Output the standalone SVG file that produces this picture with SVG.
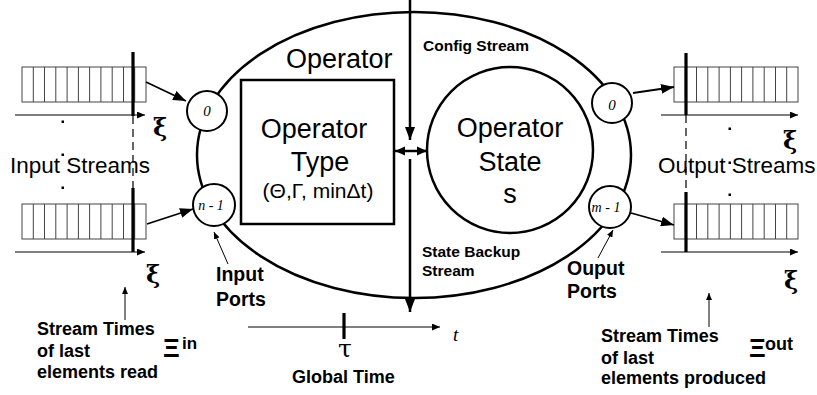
<svg xmlns="http://www.w3.org/2000/svg" xmlns:xlink="http://www.w3.org/1999/xlink" width="817" height="395" viewBox="0 0 817 395">
  <style>
    .sans { font-family: "Liberation Sans", Arial, sans-serif; fill: #000; }
    .bold { font-family: "Liberation Sans", Arial, sans-serif; font-weight: bold; fill: #000; }
    .serif { font-family: "DejaVu Serif", "Liberation Serif", serif; fill: #000; }
    .greek { font-family: "DejaVu Serif", "Liberation Serif", serif; fill: #000; font-size: 24px; font-weight: bold; }
    .ital { font-family: "Liberation Serif", "Times New Roman", serif; font-style: italic; fill: #000; }
    .big { font-size: 27px; }
    .mid { font-size: 22.5px; }
    .thick { stroke: #000; stroke-width: 2.5; fill: none; }
    .port { stroke: #000; stroke-width: 2; fill: #fff; }
    .cell { stroke: #444; stroke-width: 1; fill: #fff; }
    .axis { stroke: #000; stroke-width: 1.2; fill: none; }
    .bar { stroke: #000; stroke-width: 3.2; }
    .dash { stroke: #000; stroke-width: 1.2; stroke-dasharray: 8 5; }
    .flow { stroke: #000; stroke-width: 1.8; fill: none; }
    .note { stroke: #000; stroke-width: 1; fill: none; }
    .dot { fill: #000; }
  </style>
  <defs>
    <marker id="headL" markerUnits="userSpaceOnUse" markerWidth="13" markerHeight="10" refX="13" refY="5" orient="auto-start-reverse">
      <path d="M0,0 L13,5 L0,10 z" fill="#000"/>
    </marker>
    <marker id="headM" markerUnits="userSpaceOnUse" markerWidth="10" markerHeight="10" refX="10" refY="5" orient="auto-start-reverse">
      <path d="M0,0.5 L10,5 L0,9.5 z" fill="#000"/>
    </marker>
    <marker id="headS" markerUnits="userSpaceOnUse" markerWidth="8" markerHeight="7" refX="8" refY="3.5" orient="auto">
      <path d="M0,0 L8,3.5 L0,7 z" fill="#000"/>
    </marker>
    <marker id="headT" markerUnits="userSpaceOnUse" markerWidth="7" markerHeight="6" refX="7" refY="3" orient="auto">
      <path d="M0,0 L7,3 L0,6 z" fill="#000"/>
    </marker>
    <!-- stream buffer: 11 slots -->
    <g id="queue">
      <rect class="cell" x="0" y="0" width="124" height="35"/>
      <path class="cell" d="M11.3,0V35M22.5,0V35M33.8,0V35M45.1,0V35M56.4,0V35M67.6,0V35M78.9,0V35M90.2,0V35M101.5,0V35M112.7,0V35"/>
    </g>
  </defs>

  <!-- operator body -->
  <g id="operator">
    <ellipse class="thick" cx="414" cy="155" rx="217" ry="143"/>
    <text class="sans big" x="286" y="68">Operator</text>
  </g>

  <!-- input streams -->
  <g id="input-streams">
    <use xlink:href="#queue" x="22" y="67"/>
    <use xlink:href="#queue" x="22" y="204"/>
    <line class="axis" x1="15" y1="115" x2="145" y2="115" marker-end="url(#headS)"/>
    <line class="axis" x1="15" y1="252" x2="145" y2="252" marker-end="url(#headS)"/>
    <line class="bar" x1="133" y1="52" x2="133" y2="116"/>
    <line class="dash" x1="133" y1="116" x2="133" y2="188"/>
    <line class="bar" x1="133" y1="188" x2="133" y2="252"/>
    <rect class="dot" x="61.5" y="120.5" width="2.5" height="2.5"/>
    <rect class="dot" x="61.5" y="153.5" width="2.5" height="2.5"/>
    <rect class="dot" x="61.5" y="186.5" width="2.5" height="2.5"/>
    <text class="greek" x="153" y="136">ξ</text>
    <text class="greek" x="146" y="283">ξ</text>
    <text class="sans mid" x="10" y="173">Input Streams</text>
  </g>

  <!-- output streams -->
  <g id="output-streams">
    <use xlink:href="#queue" x="674" y="67"/>
    <use xlink:href="#queue" x="674" y="204"/>
    <line class="axis" x1="661" y1="115" x2="798" y2="115" marker-end="url(#headS)"/>
    <line class="axis" x1="661" y1="252" x2="798" y2="252" marker-end="url(#headS)"/>
    <line class="bar" x1="686" y1="53" x2="686" y2="115"/>
    <line class="dash" x1="686" y1="115" x2="686" y2="192"/>
    <line class="bar" x1="686" y1="192" x2="686" y2="252"/>
    <rect class="dot" x="728.5" y="127.5" width="2.5" height="2.5"/>
    <rect class="dot" x="728.5" y="161.5" width="2.5" height="2.5"/>
    <rect class="dot" x="728.5" y="193.5" width="2.5" height="2.5"/>
    <text class="greek" x="783" y="149">ξ</text>
    <text class="greek" x="784" y="289">ξ</text>
    <text class="sans mid" x="658" y="173">Output Streams</text>
  </g>

  <!-- ports -->
  <g id="port-in-0">
    <circle class="port" cx="207" cy="111" r="20"/>
    <text class="ital" font-size="15" x="207" y="116" text-anchor="middle">0</text>
  </g>
  <g id="port-in-last">
    <circle class="port" cx="214" cy="205" r="21"/>
    <text class="ital" font-size="14" x="211" y="210" text-anchor="middle">n - 1</text>
  </g>
  <g id="port-out-0">
    <circle class="port" cx="612" cy="103" r="20"/>
    <text class="ital" font-size="15" x="612" y="110" text-anchor="middle">0</text>
  </g>
  <g id="port-out-last">
    <circle class="port" cx="610" cy="207" r="21"/>
    <text class="ital" font-size="14" x="606" y="212" text-anchor="middle">m - 1</text>
  </g>

  <!-- operator type -->
  <g id="operator-type">
    <rect class="thick" x="241" y="80" width="153" height="144"/>
    <text class="sans big" x="314" y="138" text-anchor="middle">Operator</text>
    <text class="sans big" x="320" y="171" text-anchor="middle">Type</text>
    <text class="sans" font-size="21" x="318" y="198" text-anchor="middle">(Θ,Γ, minΔt)</text>
  </g>

  <!-- operator state -->
  <g id="operator-state">
    <circle class="thick" cx="510" cy="150" r="83" stroke-width="2.2"/>
    <text class="sans big" x="510" y="137" text-anchor="middle">Operator</text>
    <text class="sans big" x="510" y="171" text-anchor="middle">State</text>
    <text class="sans big" x="510" y="203" text-anchor="middle">s</text>
  </g>

  <!-- global time -->
  <g id="global-time">
    <line class="axis" x1="248" y1="327" x2="440" y2="327" marker-end="url(#headS)"/>
    <line class="bar" x1="344" y1="313" x2="344" y2="339"/>
    <text class="serif" font-size="25" x="345" y="357" text-anchor="middle">τ</text>
    <text class="ital" font-size="19" x="453" y="341">t</text>
    <text class="bold" font-size="18" x="292" y="383">Global Time</text>
  </g>

  <!-- connectors -->
  <g id="connectors">
    <line class="thick" x1="410" y1="0" x2="410" y2="140" marker-end="url(#headL)"/>
    <line class="thick" x1="410" y1="159" x2="410" y2="312" marker-end="url(#headL)"/>
    <line class="thick" x1="395" y1="151" x2="427" y2="151" marker-start="url(#headM)" marker-end="url(#headM)"/>
    <line class="flow" x1="146" y1="82" x2="186" y2="101" marker-end="url(#headL)"/>
    <line class="flow" x1="147" y1="224" x2="193" y2="209" marker-end="url(#headL)"/>
    <line class="flow" x1="633" y1="93" x2="674" y2="87" marker-end="url(#headL)"/>
    <line class="flow" x1="631" y1="213" x2="674" y2="225" marker-end="url(#headL)"/>
    <line class="note" x1="228" y1="264" x2="214" y2="232" marker-end="url(#headT)"/>
    <line class="note" x1="598" y1="258" x2="613" y2="230" marker-end="url(#headT)"/>
    <line class="note" x1="125" y1="320" x2="125" y2="287" marker-end="url(#headT)"/>
    <line class="note" x1="709" y1="327" x2="709" y2="293" marker-end="url(#headT)"/>
  </g>

  <!-- stream labels -->
  <g id="labels">
    <text class="bold" font-size="15.5" x="423" y="51">Config Stream</text>
    <text class="bold" font-size="15.5" x="422" y="257">State Backup</text>
    <text class="bold" font-size="15.5" x="422" y="276">Stream</text>
    <text class="bold" font-size="19.5" x="216" y="281">Input</text>
    <text class="bold" font-size="19.5" x="216" y="306">Ports</text>
    <text class="bold" font-size="19.5" x="567" y="275">Ouput</text>
    <text class="bold" font-size="19.5" x="567" y="298">Ports</text>
    <text class="bold" font-size="18" x="37" y="335">Stream Times</text>
    <text class="bold" font-size="18" x="37" y="357">of last</text>
    <text class="bold" font-size="18" x="37" y="378">elements read</text>
    <text class="bold" font-size="26" x="163" y="357">Ξ</text>
    <text class="bold" font-size="17" x="182" y="349">in</text>
    <text class="bold" font-size="18" x="601" y="342">Stream Times</text>
    <text class="bold" font-size="18" x="601" y="364">of last</text>
    <text class="bold" font-size="18" x="601" y="384">elements produced</text>
    <text class="bold" font-size="26" x="749" y="357">Ξ</text>
    <text class="bold" font-size="18" x="765" y="350">out</text>
  </g>
</svg>
